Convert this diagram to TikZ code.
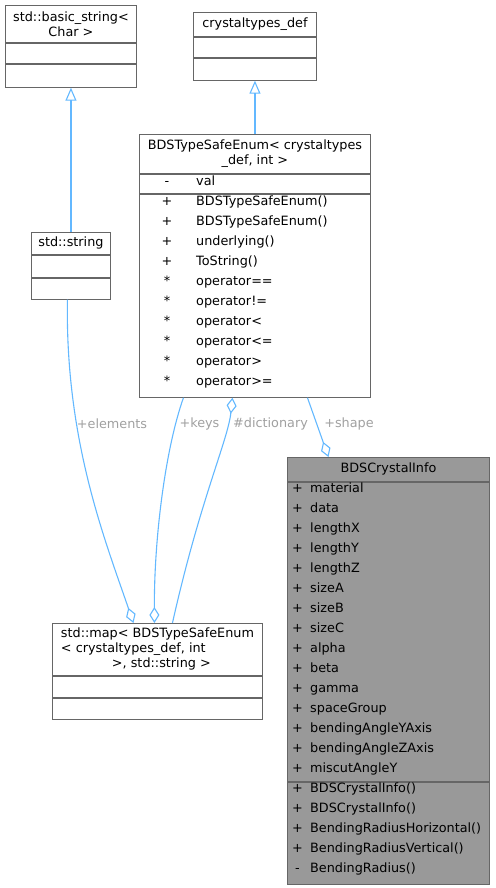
\documentclass[tikz,border=0pt]{standalone}
\usepackage{fontspec}
\setmainfont{DejaVu Sans}
\usepackage{xcolor}
\usetikzlibrary{positioning, arrows.meta}

\definecolor{edgeblue}{HTML}{63B8FF}
\definecolor{boxline}{HTML}{666666}
\definecolor{labelgray}{HTML}{A0A0A0}
\definecolor{focusfill}{HTML}{999999}

\begin{document}
\begin{tikzpicture}[x=1pt, y=-1pt,
  part/.style={draw=boxline, line width=0.9pt, fill=white, inner sep=0pt,
               font=\fontsize{12.8}{15}\selectfont, align=center},
  focus/.style={part, fill=focusfill},
  row/.style={anchor=west, inner sep=0pt, text height=9pt, text depth=2.5pt,
              font=\fontsize{12.8}{15}\selectfont},
  sym/.style={row, anchor=center},
  elabel/.style={text=labelgray, inner sep=0pt, font=\fontsize{12.8}{15}\selectfont},
  inherit/.style={draw=edgeblue, line width=1.1pt,
                  -{Triangle[open, length=13pt, width=11pt]}},
  agg/.style={draw=edgeblue, line width=1.1pt,
              -{Diamond[open, length=16pt, width=10pt]}}
]
\useasboundingbox (0,0) rectangle (495,888);

% std::basic_string< Char >
\node[part, anchor=north west, minimum width=131pt, minimum height=37pt] (bsT) at (5,5) {std::basic\_string<\\Char >};
\node[part, minimum width=131pt, minimum height=20pt, below=0pt of bsT] (bsA) {};
\node[part, minimum width=131pt, minimum height=23pt, below=0pt of bsA] (bsM) {};

% crystaltypes_def
\node[part, anchor=north west, minimum width=123pt, minimum height=24pt] (ctT) at (193,12) {crystaltypes\_def};
\node[part, minimum width=123pt, minimum height=20pt, below=0pt of ctT] (ctA) {};
\node[part, minimum width=123pt, minimum height=22pt, below=0pt of ctA] (ctM) {};

% std::string
\node[part, anchor=north west, minimum width=79pt, minimum height=22pt] (strT) at (31,232) {std::string};
\node[part, minimum width=79pt, minimum height=22pt, below=0pt of strT] (strA) {};
\node[part, minimum width=79pt, minimum height=21pt, below=0pt of strA] (strM) {};

% BDSTypeSafeEnum< crystaltypes_def, int >
\node[part, anchor=north west, minimum width=231pt, minimum height=39pt] (teT) at (139,134) {BDSTypeSafeEnum< crystaltypes\\\_def, int >};
\node[part, minimum width=231pt, minimum height=19pt, below=0pt of teT] (teA) {};
\node[part, minimum width=231pt, minimum height=203pt, below=0pt of teA] (teM) {};
\node[sym] (teAS) at (167,182) {-};
\node[row] (teAR) at (196,182) {val};
\foreach \s/\t [count=\i from 0] in {+/BDSTypeSafeEnum(), +/BDSTypeSafeEnum(), +/underlying(), +/ToString(),
    */operator==, */operator!=, */operator<, */operator<=, */operator>, */operator>=}
{
  \node[sym] (teS\i) at (167,202+20*\i) {\s};
  \node[row] (teR\i) at (196,202+20*\i) {\t};
}

% BDSCrystalInfo
\node[focus, anchor=north west, minimum width=202pt, minimum height=24pt] (ciT) at (287,457) {BDSCrystalInfo};
\node[focus, minimum width=202pt, minimum height=299pt, below=0pt of ciT] (ciA) {};
\node[focus, minimum width=202pt, minimum height=102pt, below=0pt of ciA] (ciM) {};
\foreach \t [count=\i from 0] in {material, data, lengthX, lengthY, lengthZ, sizeA, sizeB, sizeC,
    alpha, beta, gamma, spaceGroup, bendingAngleYAxis, bendingAngleZAxis, miscutAngleY}
{
  \node[sym] (ciAS\i) at (297.5,489+20*\i) {+};
  \node[row] (ciAR\i) at (310,489+20*\i) {\t};
}
\foreach \s/\t [count=\i from 0] in {+/BDSCrystalInfo(), +/BDSCrystalInfo(), +/BendingRadiusHorizontal(),
    +/BendingRadiusVertical(), -/BendingRadius()}
{
  \node[sym] (ciMS\i) at (297.5,789+20*\i) {\s};
  \node[row] (ciMR\i) at (310,789+20*\i) {\t};
}

% std::map< BDSTypeSafeEnum< crystaltypes_def, int >, std::string >
\node[part, anchor=north west, minimum width=210pt, minimum height=52pt, align=left] (mapT) at (52,623)
  {std::map< BDSTypeSafeEnum\\< crystaltypes\_def, int\\\hspace*{51pt}>, std::string >};
\node[part, minimum width=210pt, minimum height=21pt, below=0pt of mapT] (mapA) {};
\node[part, minimum width=210pt, minimum height=21pt, below=0pt of mapA] (mapM) {};

% inheritance
\draw[inherit] (strT.north) -- (bsM.south);
\draw[inherit] (teT.north) -- (ctM.south);

% members
\draw[agg] ([xshift=-3.5pt]strM.south) .. controls (65,440) and (105,540) .. ([xshift=-24pt]mapT.north);
\draw[agg] ([xshift=-71.5pt]teM.south) .. controls (165,450) and (154,540) .. ([xshift=-3pt]mapT.north);
\draw[agg] ([xshift=15pt]mapT.north) .. controls (200,500) and (228,440) .. ([xshift=-22.5pt]teM.south);
\draw[agg] ([xshift=52.5pt]teM.south) -- ([xshift=-60pt]ciT.north);

\node[elabel] (lElem) at (112,424) {+elements};
\node[elabel] (lKeys) at (199.5,424) {+keys};
\node[elabel] (lDict) at (270.5,424) {\#dictionary};
\node[elabel] (lShape) at (349,424) {+shape};
\end{tikzpicture}
\end{document}
